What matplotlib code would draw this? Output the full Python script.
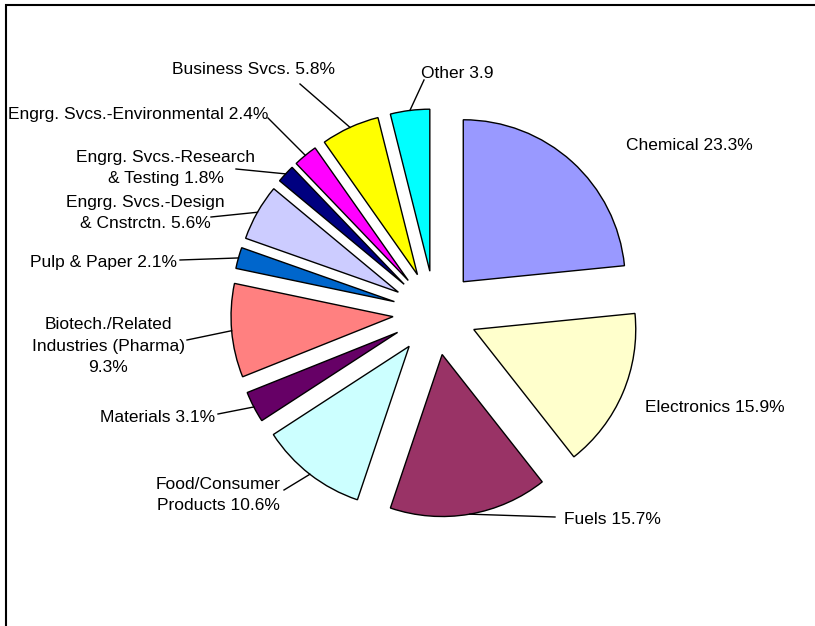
import numpy as np
import matplotlib.pyplot as plt
from matplotlib.patches import Rectangle

plt.rcParams['font.family'] = ['Liberation Sans', 'DejaVu Sans']

# industry shares, clockwise from 12 o'clock
labels = ['Chemical 23.3%', 'Electronics 15.9%', 'Fuels 15.7%',
          'Food/Consumer\nProducts 10.6%', 'Materials 3.1%',
          'Biotech./Related\nIndustries (Pharma)\n9.3%', 'Pulp & Paper 2.1%',
          'Engrg. Svcs.-Design\n& Cnstrctn. 5.6%',
          'Engrg. Svcs.-Research\n& Testing 1.8%',
          'Engrg. Svcs.-Environmental 2.4%', 'Business Svcs. 5.8%', 'Other 3.9']
values = [23.3, 15.9, 15.7, 10.6, 3.1, 9.3, 2.1, 5.6, 1.8, 2.4, 5.8, 3.9]
colors = ['#9999FF', '#FFFFCC', '#993366', '#CCFFFF', '#660066', '#FF8080',
          '#0066CC', '#CCCCFF', '#000080', '#FF00FF', '#FFFF00', '#00FFFF']

# label placement in pixels from the top-left: (x, y, ha, leader end or None)
label_pos = [
    (626, 145, 'left', None),
    (645, 407, 'left', None),
    (564, 519, 'left', (555, 517)),
    (218, 495, 'center', (284, 490)),
    (215, 417, 'right', (218, 414)),
    (108, 346, 'center', (187, 340)),
    (177, 263, 'right', (180, 260)),
    (145, 213, 'center', (211, 217)),
    (166, 168, 'center', (236, 169)),
    (268, 115, 'right', (268, 118)),
    (253, 69, 'center', (300, 84)),
    (421, 73, 'left', (424, 80)),
]

W, H = 815, 626
R = 162
fig = plt.figure(figsize=(W / 100, H / 100), dpi=100)
ax = fig.add_axes([0, 0, 1, 1])


def fy(y):
    return H - y


# explode is in data units here, so scale it by the radius
wedges, _ = ax.pie(values, colors=colors, startangle=90, counterclock=False,
                   explode=[0.26 * R] * len(values), center=(435, fy(313)),
                   radius=R, frame=True,
                   wedgeprops=dict(edgecolor='black', linewidth=1))
ax.set_xlim(0, W)
ax.set_ylim(0, H)
ax.set_aspect('equal')
ax.axis('off')

for w, lab, (x, y, ha, end) in zip(wedges, labels, label_pos):
    ax.text(x, fy(y), lab, ha=ha, va='center', fontsize=12.5,
            multialignment='center', linespacing=1.55)
    if end is not None:
        mid = np.deg2rad((w.theta1 + w.theta2) / 2)
        px = w.center[0] + w.r * np.cos(mid)
        py = w.center[1] + w.r * np.sin(mid)
        ax.plot([px, end[0]], [py, fy(end[1])], color='black', linewidth=1)

# chart area border (right and bottom edges run off the image)
fig.patches.append(Rectangle((6, -20), W + 20, H - 5 + 20, transform=None,
                             fill=False, edgecolor='black', linewidth=1.5))

fig.savefig('out.png', dpi=100)
